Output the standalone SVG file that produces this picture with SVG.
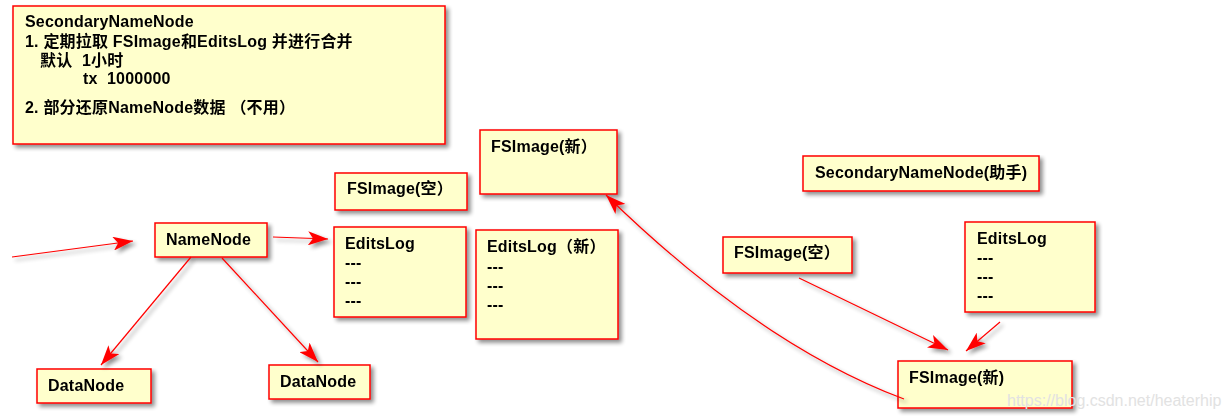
<svg xmlns="http://www.w3.org/2000/svg" width="1229" height="420" viewBox="0 0 1229 420">
<style>
.box{fill:#FFFFCC;stroke:#FF0000;stroke-width:1.5}
.t{font-family:"Liberation Sans","Noto Sans CJK SC",sans-serif;font-size:16px;font-weight:bold;fill:#000;letter-spacing:0.2px}
.c{fill:none;stroke:#FF0000;stroke-width:1.2}
.wm{font-family:"Liberation Sans",sans-serif;font-size:16px;fill:#E2E2E2}
</style>
<defs>
<filter id="sh" x="-10%" y="-10%" width="130%" height="140%">
<feGaussianBlur in="SourceAlpha" stdDeviation="2"/>
<feOffset dx="3" dy="3" result="b"/>
<feComponentTransfer><feFuncA type="linear" slope="0.45"/></feComponentTransfer>
<feMerge><feMergeNode/><feMergeNode in="SourceGraphic"/></feMerge>
</filter>
<marker id="ah" markerWidth="22" markerHeight="14" refX="20" refY="7" orient="auto" markerUnits="userSpaceOnUse">
<path d="M0,0 L20,7 L0,14 L5,7 Z" fill="#FF0000"/>
</marker>
</defs>

<g id="note" filter="url(#sh)">
<rect class="box" x="13" y="6" width="432" height="138"/>
<text class="t" x="25" y="27">SecondaryNameNode</text>
<text class="t" x="25" y="47">1. 定期拉取 FSImage和EditsLog 并进行合并</text>
<text class="t" x="40" y="66">默认<tspan x="82">1小时</tspan></text>
<text class="t" x="83" y="84">tx<tspan x="107">1000000</tspan></text>
<text class="t" x="25" y="113">2. 部分还原NameNode数据 （不用）</text>
</g>

<g id="namenode" filter="url(#sh)">
<rect class="box" x="155" y="223" width="112" height="34"/>
<text class="t" x="166" y="245">NameNode</text>
</g>

<g id="fsimage-empty" filter="url(#sh)">
<rect class="box" x="335" y="173" width="132" height="37"/>
<text class="t" x="347" y="194">FSImage(空）</text>
</g>

<g id="editslog" filter="url(#sh)">
<rect class="box" x="334" y="227" width="132" height="90"/>
<text class="t" x="345" y="249">EditsLog</text>
<text class="t" x="345" y="268">---</text>
<text class="t" x="345" y="287">---</text>
<text class="t" x="345" y="306">---</text>
</g>

<g id="datanode1" filter="url(#sh)">
<rect class="box" x="37" y="369" width="114" height="34"/>
<text class="t" x="48" y="391">DataNode</text>
</g>

<g id="datanode2" filter="url(#sh)">
<rect class="box" x="269" y="365" width="101" height="34"/>
<text class="t" x="280" y="387">DataNode</text>
</g>

<g id="fsimage-new" filter="url(#sh)">
<rect class="box" x="480" y="130" width="137" height="64"/>
<text class="t" x="491" y="152">FSImage(新）</text>
</g>

<g id="editslog-new" filter="url(#sh)">
<rect class="box" x="476" y="230" width="142" height="109"/>
<text class="t" x="487" y="252">EditsLog（新）</text>
<text class="t" x="487" y="272">---</text>
<text class="t" x="487" y="291">---</text>
<text class="t" x="487" y="310">---</text>
</g>

<g id="secondary" filter="url(#sh)">
<rect class="box" x="803" y="156" width="236" height="35"/>
<text class="t" x="815" y="178">SecondaryNameNode(助手)</text>
</g>

<g id="fsimage-empty-2" filter="url(#sh)">
<rect class="box" x="723" y="237" width="129" height="36"/>
<text class="t" x="734" y="258">FSImage(空）</text>
</g>

<g id="editslog-2" filter="url(#sh)">
<rect class="box" x="965" y="222" width="130" height="90"/>
<text class="t" x="977" y="244">EditsLog</text>
<text class="t" x="977" y="263">---</text>
<text class="t" x="977" y="282">---</text>
<text class="t" x="977" y="301">---</text>
</g>

<g id="fsimage-new-2" filter="url(#sh)">
<rect class="box" x="898" y="361" width="174" height="47"/>
<text class="t" x="909" y="383">FSImage(新)</text>
</g>

<g id="connectors" filter="url(#sh)">
<line class="c" x1="12" y1="257" x2="133" y2="241" marker-end="url(#ah)"/>
<line class="c" x1="273" y1="237" x2="328" y2="239" marker-end="url(#ah)"/>
<line class="c" x1="191" y1="257" x2="101" y2="365" marker-end="url(#ah)"/>
<line class="c" x1="222" y1="258" x2="318" y2="362" marker-end="url(#ah)"/>
<line class="c" x1="799" y1="278" x2="948" y2="350" marker-end="url(#ah)"/>
<line class="c" x1="1000" y1="322" x2="966" y2="351" marker-end="url(#ah)"/>
<path class="c" d="M904,399 Q760,345 606,195" marker-end="url(#ah)"/>
</g>

<text class="wm" x="1007" y="406">https://blog.csdn.net/heaterhip</text>
</svg>
